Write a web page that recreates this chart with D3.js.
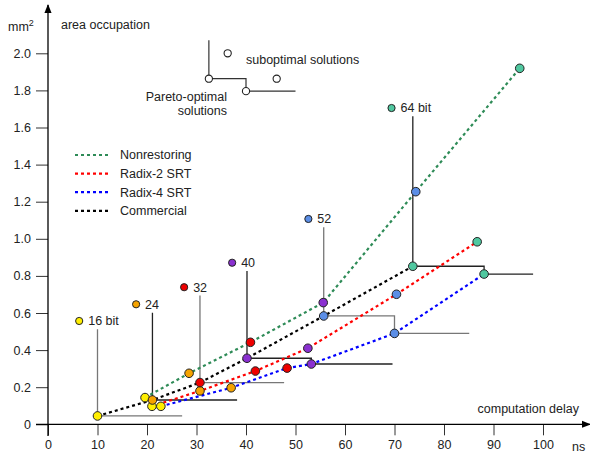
<!DOCTYPE html>
<html>
<head>
<meta charset="utf-8">
<script src="https://cdn.jsdelivr.net/npm/d3@7"></script>
<style>
  body { margin: 0; background: #fff; }
  svg text { font-family: "Liberation Sans", Arial, sans-serif; fill: #222; }
</style>
</head>
<body>
<svg id="chart"></svg>
<script>
const size = { w: 590, h: 454 };

// bit widths and their colours
const widths = ["16 bit", "24", "32", "40", "52", "64 bit"];
const widthColors = ["#ffee00", "#f5a300", "#ee0000", "#8a30d0", "#5b8ee6", "#50c8a0"];

// label anchor per bit width [ns, mm2]
const labelPos = [[6.3, 0.557], [17.8, 0.647], [27.5, 0.739], [37.2, 0.871], [52.6, 1.107], [69.4, 1.705]];

// delay (ns) and area (mm2) per design, one value per bit width
const series = ["Nonrestoring", "Radix-2 SRT", "Radix-4 SRT", "Commercial"];
const seriesColors = ["#2e8b57", "#ff0000", "#0000ff", "#000000"];
const nonrestDelay = [19.6, 28.5, 40.9, 55.6, 74.3, 95.3];
const nonrestArea = [0.144, 0.275, 0.442, 0.656, 1.254, 1.919];
const radix2Delay = [21.0, 30.7, 41.9, 52.5, 70.4, 86.7];
const radix2Area = [0.097, 0.180, 0.287, 0.410, 0.701, 0.984];
const radix4Delay = [22.8, 37.0, 48.3, 53.2, 70.0, 88.1];
const radix4Area = [0.097, 0.197, 0.303, 0.325, 0.490, 0.810];
const commDelay = [10.0, 21.1, 30.7, 40.2, 55.7, 73.7];
const commArea = [0.045, 0.131, 0.225, 0.356, 0.584, 0.852];

// Pareto staircase: points per bit width, then the delay where the step ends
const paretoPts = [
  [[10.0, 0.045]],
  [[21.1, 0.131]],
  [[30.7, 0.225]],
  [[40.2, 0.356], [53.2, 0.325]],
  [[55.7, 0.584], [70.0, 0.490]],
  [[73.7, 0.852], [88.1, 0.810]],
];
const paretoEnd = [27.1, 38.2, 47.7, 69.6, 85.1, 98.0];
const stairColors = ["#777", "#222", "#777", "#222", "#777", "#222"];

// inset explaining the Pareto front
const insetPareto = [[32.5, 1.863], [40.0, 1.796]];
const insetTop = 2.07;
const insetEnd = 50.0;
const insetSubopt = [[36.3, 2.0], [46.2, 1.863]];

const xTicks = [0, 10, 20, 30, 40, 50, 60, 70, 80, 90, 100];
const yTicks = [0, 0.2, 0.4, 0.6, 0.8, 1.0, 1.2, 1.4, 1.6, 1.8, 2.0];

const svg = d3.select("svg#chart").attr("width", size.w).attr("height", size.h);

const x = d3.scaleLinear().domain([0, 100]).range([48, 543]);
const y = d3.scaleLinear().domain([0, 2]).range([424.3, 53.3]);

// axes
const xAxis = svg.append("g").attr("transform", `translate(0, ${y(0)})`);
xAxis.call(d3.axisBottom(x).tickValues(xTicks).tickSize(11).tickPadding(6)
  .tickFormat(d => d));
xAxis.select(".domain").remove();
xAxis.selectAll("line").attr("stroke", "#333");
xAxis.selectAll("text").attr("font-size", 12.5).attr("dy", "0.6em");

const yAxis = svg.append("g").attr("transform", `translate(${x(0)}, 0)`);
yAxis.call(d3.axisLeft(y).tickValues(yTicks).tickSize(12).tickPadding(5)
  .tickFormat(d => d === 0 ? "0" : d3.format(".1f")(d)));
yAxis.select(".domain").remove();
yAxis.selectAll("line").attr("stroke", "#333");
yAxis.selectAll("text").attr("font-size", 12.5);

svg.append("defs").append("marker")
  .attr("id", "arrow").attr("viewBox", "0 0 10 10")
  .attr("refX", 9).attr("refY", 5)
  .attr("markerWidth", 9).attr("markerHeight", 9)
  .attr("markerUnits", "userSpaceOnUse")
  .attr("orient", "auto")
  .append("path").attr("d", "M0,1 L10,5 L0,9 Z").attr("fill", "#000");

svg.append("line")
  .attr("x1", 36).attr("x2", 590).attr("y1", y(0)).attr("y2", y(0))
  .attr("stroke", "#000").attr("stroke-width", 1.3).attr("marker-end", "url(#arrow)");
svg.append("line")
  .attr("x1", x(0)).attr("x2", x(0)).attr("y1", 436).attr("y2", 5)
  .attr("stroke", "#000").attr("stroke-width", 1.3).attr("marker-end", "url(#arrow)");

svg.append("text").attr("x", 8).attr("y", 31).attr("font-size", 12.5)
  .html('mm<tspan dy="-5" font-size="9">2</tspan>');
svg.append("text").attr("x", 61).attr("y", 29).attr("font-size", 12.5).text("area occupation");
svg.append("text").attr("x", 579).attr("y", 413).attr("font-size", 12.5)
  .attr("text-anchor", "end").text("computation delay");
svg.append("text").attr("x", 572).attr("y", 451).attr("font-size", 12.5).text("ns");

// Pareto staircases
const stairs = svg.append("g").attr("fill", "none").attr("stroke-width", 1.3);
paretoPts.forEach((pts, i) => {
  let path = [[pts[0][0], labelPos[i][1] - 0.045]];
  pts.forEach((p, j) => {
    if (j > 0) path.push([p[0], pts[j - 1][1]]);
    path.push(p);
  });
  path.push([paretoEnd[i], pts[pts.length - 1][1]]);
  stairs.append("path")
    .attr("stroke", stairColors[i])
    .attr("d", d3.line().x(d => x(d[0])).y(d => y(d[1]))(path));
});

// dotted design lines
const seriesData = [
  d3.zip(nonrestDelay, nonrestArea),
  d3.zip(radix2Delay, radix2Area),
  d3.zip(radix4Delay, radix4Area),
  d3.zip(commDelay, commArea),
];
const line = d3.line().x(d => x(d[0])).y(d => y(d[1]));
svg.append("g").selectAll("path")
  .data(seriesData)
  .join("path")
  .attr("d", line)
  .attr("fill", "none")
  .attr("stroke", (d, i) => seriesColors[i])
  .attr("stroke-width", 2.2)
  .attr("stroke-dasharray", "3,3");

// points coloured by bit width
const pts = [];
seriesData.forEach(s => s.forEach((p, k) => pts.push({ p: p, k: k })));
svg.append("g").selectAll("circle")
  .data(pts)
  .join("circle")
  .attr("cx", d => x(d.p[0]))
  .attr("cy", d => y(d.p[1]))
  .attr("r", 4.3)
  .attr("fill", d => widthColors[d.k])
  .attr("stroke", "#222")
  .attr("stroke-width", 1);

// bit width labels
const lab = svg.append("g").selectAll("g")
  .data(widths)
  .join("g")
  .attr("transform", (d, i) => `translate(${x(labelPos[i][0])}, ${y(labelPos[i][1])})`);
lab.append("circle").attr("r", 3.6)
  .attr("fill", (d, i) => widthColors[i]).attr("stroke", "#222").attr("stroke-width", 1);
lab.append("text").attr("x", 9).attr("dy", "0.35em").attr("font-size", 12.5).text(d => d);

// inset
const inset = svg.append("g");
const insetPath = [[insetPareto[0][0], insetTop], insetPareto[0],
  [insetPareto[1][0], insetPareto[0][1]], insetPareto[1], [insetEnd, insetPareto[1][1]]];
inset.append("path").attr("d", line(insetPath))
  .attr("fill", "none").attr("stroke", "#333").attr("stroke-width", 1.2);
inset.selectAll("circle")
  .data(insetPareto.concat(insetSubopt))
  .join("circle")
  .attr("cx", d => x(d[0])).attr("cy", d => y(d[1])).attr("r", 3.6)
  .attr("fill", "#fff").attr("stroke", "#222").attr("stroke-width", 1.1);
inset.append("text").attr("x", 246).attr("y", 64).attr("font-size", 12.5).text("suboptimal solutions");
inset.append("text").attr("x", 227).attr("y", 101).attr("font-size", 12.5)
  .attr("text-anchor", "end").text("Pareto-optimal");
inset.append("text").attr("x", 227).attr("y", 115).attr("font-size", 12.5)
  .attr("text-anchor", "end").text("solutions");

// legend
const leg = svg.append("g").selectAll("g")
  .data(series)
  .join("g")
  .attr("transform", (d, i) => `translate(75, ${155 + i * 18.6})`);
leg.append("line").attr("x1", 0).attr("x2", 36)
  .attr("stroke", (d, i) => seriesColors[i]).attr("stroke-width", 2.2).attr("stroke-dasharray", "3,3");
leg.append("text").attr("x", 45).attr("dy", "0.35em").attr("font-size", 12.5).text(d => d);
</script>
</body>
</html>
